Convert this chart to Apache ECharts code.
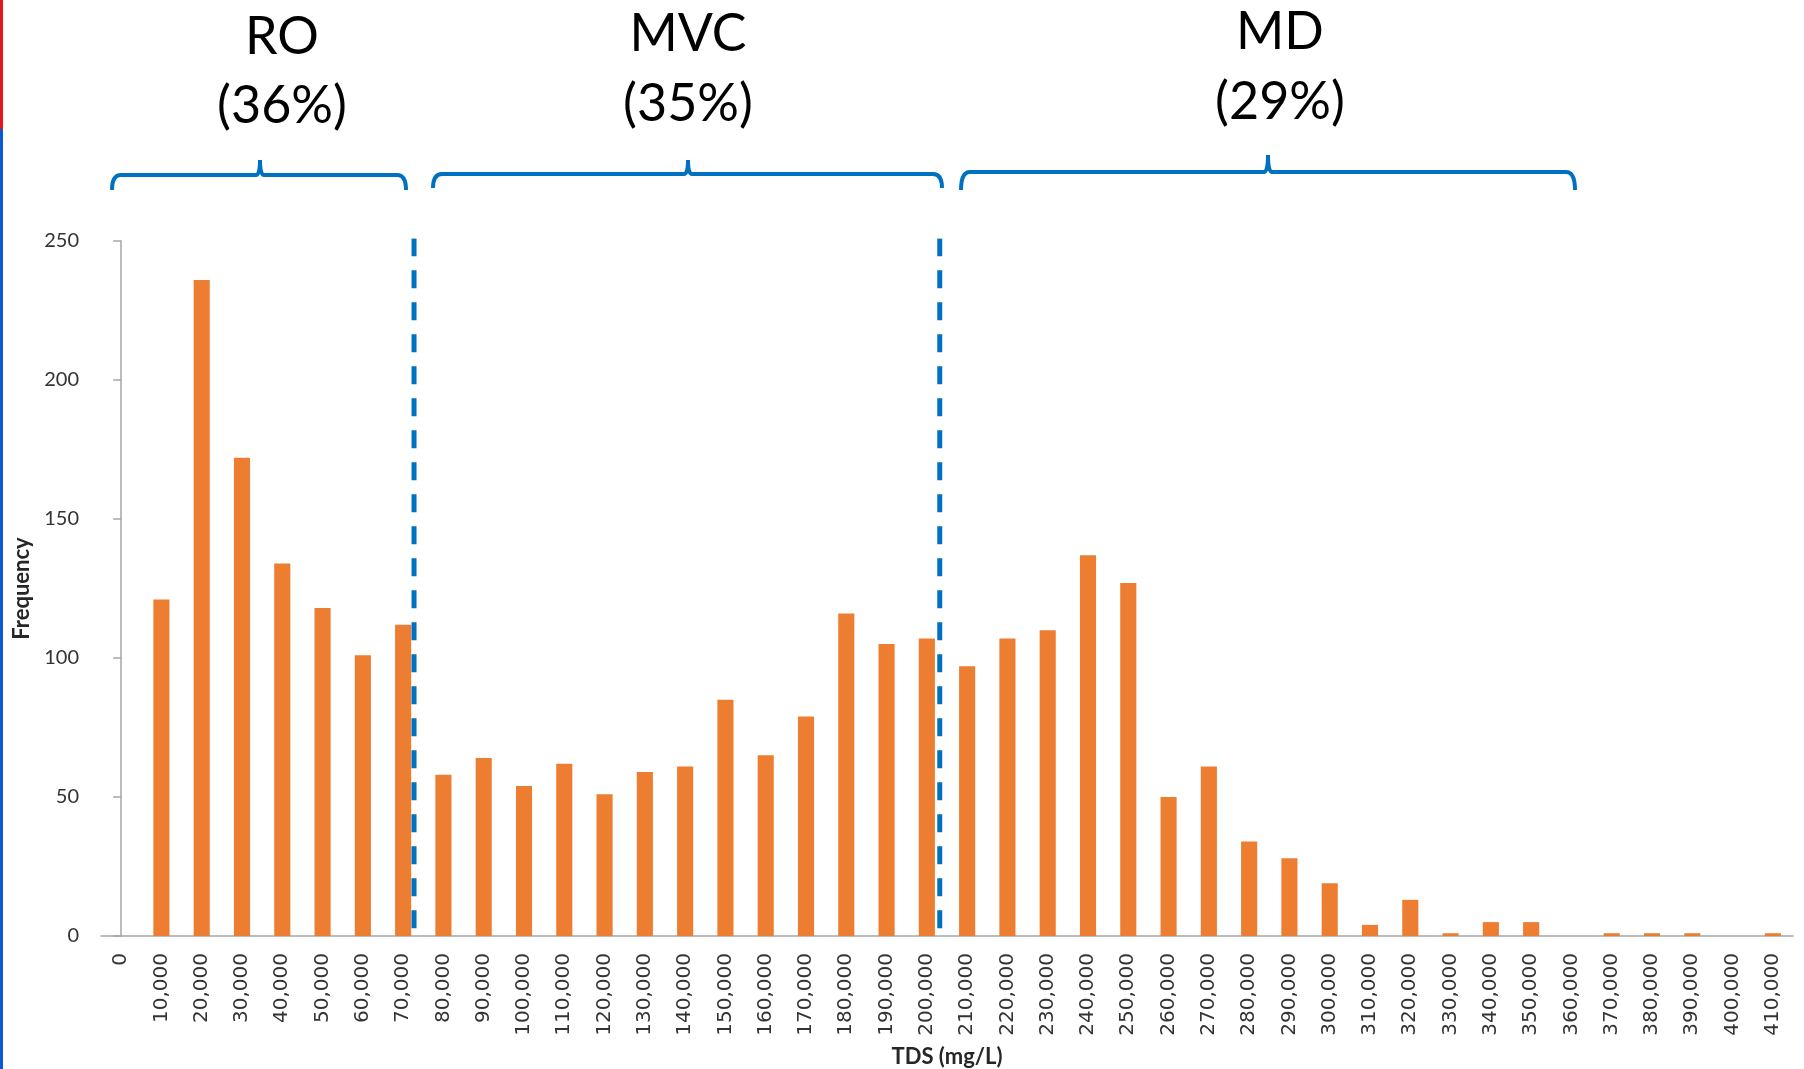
<!DOCTYPE html>
<html>
<head>
<meta charset="utf-8">
<script src="https://cdn.jsdelivr.net/npm/echarts@6/dist/echarts.min.js"></script>
<style>
    html, body { margin: 0; padding: 0; background: #fff; }
    #chart { width: 1804px; height: 1069px; }
</style>
</head>
<body>
<div id="chart"></div>
<script>
// TDS bins (mg/L), one bar per 10,000 step
const tdsBins = [
    0, 10000, 20000, 30000, 40000, 50000, 60000, 70000, 80000, 90000,
    100000, 110000, 120000, 130000, 140000, 150000, 160000, 170000, 180000, 190000,
    200000, 210000, 220000, 230000, 240000, 250000, 260000, 270000, 280000, 290000,
    300000, 310000, 320000, 330000, 340000, 350000, 360000, 370000, 380000, 390000,
    400000, 410000
];
const frequency = [
    0, 121, 236, 172, 134, 118, 101, 112, 58, 64,
    54, 62, 51, 59, 61, 85, 65, 79, 116, 105,
    107, 97, 107, 110, 137, 127, 50, 61, 34, 28,
    19, 4, 13, 1, 5, 5, 0, 1, 1, 1,
    0, 1
];
// dashed separators between technologies, in TDS units
const dividers = [72700, 203200];
const groups = ["RO", "MVC", "MD"];
const shares = ["(36%)", "(35%)", "(29%)"];

const chart = echarts.init(document.getElementById("chart"));

const blue = "#0070C0";
const axisGrey = "#A6A6A6";

// curly bracket over each group (pixel positions)
const braces = [
    { x1: 112, x2: 406, xm: 260, y: 175, yEnd: 190, yTip: 160 },
    { x1: 433, x2: 942, xm: 688, y: 174, yEnd: 188, yTip: 160 },
    { x1: 961, x2: 1575, xm: 1268, y: 172, yEnd: 190, yTip: 155 }
];
const labelPos = [
    { x: 282, y1: 37, y2: 106 },
    { x: 688, y1: 34, y2: 104 },
    { x: 1280, y1: 32, y2: 102 }
];

const braceStyle = { fill: null, stroke: blue, lineWidth: 4 };

function braceParts(b) {
    const r = 9;
    return [
        // left hook
        { type: "bezierCurve", shape: { x1: b.x1, y1: b.yEnd, cpx1: b.x1, cpy1: b.y, x2: b.x1 + r, y2: b.y }, style: braceStyle },
        { type: "line", shape: { x1: b.x1 + r, y1: b.y, x2: b.xm - 4, y2: b.y }, style: braceStyle },
        // middle point
        { type: "bezierCurve", shape: { x1: b.xm - 4, y1: b.y, cpx1: b.xm, cpy1: b.y, x2: b.xm, y2: b.yTip }, style: braceStyle },
        { type: "bezierCurve", shape: { x1: b.xm, y1: b.yTip, cpx1: b.xm, cpy1: b.y, x2: b.xm + 4, y2: b.y }, style: braceStyle },
        { type: "line", shape: { x1: b.xm + 4, y1: b.y, x2: b.x2 - r, y2: b.y }, style: braceStyle },
        // right hook
        { type: "bezierCurve", shape: { x1: b.x2 - r, y1: b.y, cpx1: b.x2, cpy1: b.y, x2: b.x2, y2: b.yEnd }, style: braceStyle }
    ];
}

const graphics = [
    { type: "rect", shape: { x: 0, y: 0, width: 3, height: 129 }, style: { fill: "#E5161E" } },
    { type: "rect", shape: { x: 0, y: 129, width: 3, height: 940 }, style: { fill: "#0A5AD2" } }
];
braces.forEach((b) => {
    braceParts(b).forEach((p) => graphics.push(p));
});
groups.forEach((g, i) => {
    const p = labelPos[i];
    [[g, p.y1], [shares[i], p.y2]].forEach(([txt, y]) => {
        graphics.push({
            type: "text",
            x: p.x,
            y: y,
            style: {
                text: txt,
                fontFamily: "Lato",
                fontSize: 52,
                fill: "#000",
                align: "center",
                verticalAlign: "middle"
            }
        });
    });
});

const option = {
    animation: false,
    backgroundColor: "#fff",
    grid: {
        left: 101,
        right: 11,
        top: 241,
        bottom: 133,
        containLabel: false,
        outerBoundsMode: "none"
    },
    xAxis: [
        {
            type: "category",
            data: tdsBins.map((v) => v.toLocaleString("en-US")),
            boundaryGap: true,
            name: "TDS (mg/L)",
            nameLocation: "middle",
            nameGap: 110,
            nameTextStyle: {
                fontFamily: "Lato",
                fontWeight: "bold",
                fontSize: 22,
                color: "#262626"
            },
            axisLine: { lineStyle: { color: axisGrey, width: 1.5 } },
            axisTick: { length: 9, lineStyle: { color: axisGrey, width: 1.5 } },
            axisLabel: {
                interval: 0,
                rotate: 90,
                margin: 17,
                fontFamily: "DejaVu Sans",
                fontSize: 20,
                color: "#333"
            }
        },
        {
            type: "value",
            min: -5000,
            max: 415000,
            show: false
        }
    ],
    yAxis: {
        type: "value",
        min: 0,
        max: 250,
        interval: 50,
        name: "Frequency",
        nameLocation: "middle",
        nameGap: 66,
        nameTextStyle: {
            fontFamily: "Lato",
            fontWeight: "bold",
            fontSize: 22,
            color: "#262626"
        },
        splitLine: { show: false },
        axisLine: { show: true, lineStyle: { color: axisGrey, width: 1.5 } },
        axisTick: { show: true, length: 8, lineStyle: { color: axisGrey, width: 1.5 } },
        axisLabel: {
            margin: 22,
            fontFamily: "Lato",
            fontSize: 20,
            color: "#333"
        }
    },
    series: [
        {
            type: "bar",
            data: frequency,
            barWidth: "40%",
            itemStyle: { color: "#ED7D31" },
            silent: true
        }
    ].concat(dividers.map((d) => ({
        type: "line",
        xAxisIndex: 1,
        data: [[d, 251], [d, 0]],
        symbol: "none",
        silent: true,
        z: 5,
        lineStyle: { color: blue, width: 5, type: [18, 14] }
    }))),
    graphic: graphics
};

chart.setOption(option);
</script>
</body>
</html>
